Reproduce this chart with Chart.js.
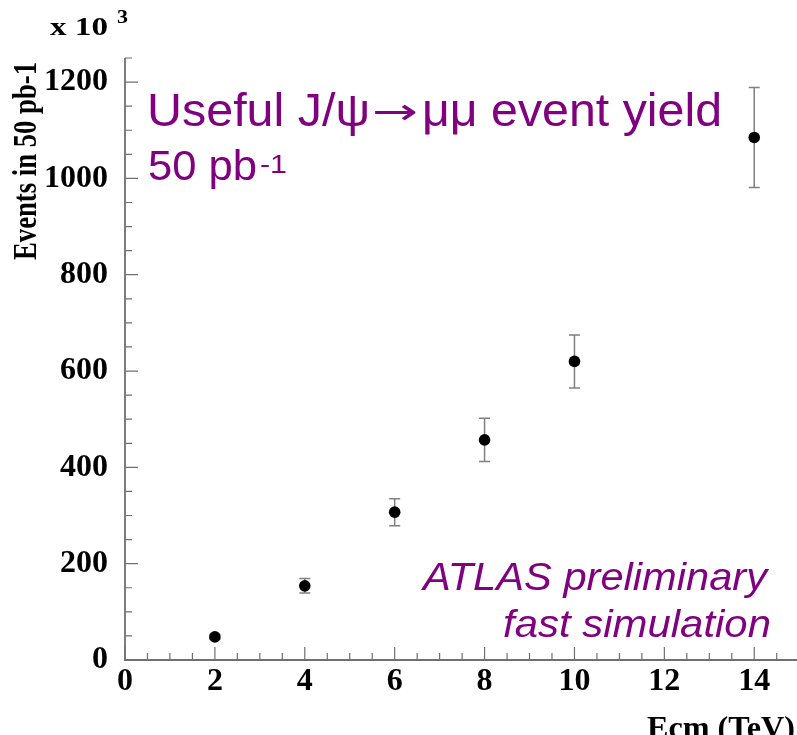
<!DOCTYPE html>
<html>
<head>
<meta charset="utf-8">
<script src="https://cdn.jsdelivr.net/npm/chart.js@4/dist/chart.umd.min.js"></script>
<style>
  html, body { margin: 0; padding: 0; background: #fff; overflow: hidden; }
  #wrap { width: 797px; height: 735px; overflow: hidden; position: relative; }
  canvas { position: absolute; left: 0; top: 0; }
</style>
</head>
<body>
<div id="wrap"><canvas id="c" width="805" height="735"></canvas></div>
<script>
// Centre-of-mass energy (TeV)
const energies = [2, 4, 6, 8, 10, 14];
// Useful J/psi -> mu mu events in 50 pb-1 (units of 10^3)
const yields = [48, 154, 307, 457, 620, 1085];
// Statistical uncertainty on each yield (units of 10^3)
const yieldErrors = [5, 15, 28, 45, 55, 104];

const xTicks = [0, 2, 4, 6, 8, 10, 12, 14];
const yTicks = [0, 200, 400, 600, 800, 1000, 1200];
const xMinorStep = 0.5;
const yMinorStep = 50;

const PURPLE = '#800080';
const AXIS_GREY = '#707070';
const BAR_GREY = '#808080';
const SERIF = '"Liberation Serif", "Times New Roman", serif';
const SANS = '"Liberation Sans", Arial, sans-serif';

// Draw a string squeezed/stretched horizontally to a set width.
function fitText(ctx, text, x, y, width, font, color) {
  ctx.save();
  ctx.font = font;
  ctx.fillStyle = color;
  ctx.textAlign = 'left';
  ctx.textBaseline = 'alphabetic';
  const w = ctx.measureText(text).width;
  ctx.translate(x, y);
  ctx.scale(width / w, 1);
  ctx.fillText(text, 0, 0);
  ctx.restore();
}

// Vertical error bars with small caps, drawn under the markers.
const errorBars = {
  id: 'errorBars',
  beforeDatasetsDraw(chart) {
    const { ctx, scales: { x, y } } = chart;
    ctx.save();
    ctx.strokeStyle = BAR_GREY;
    ctx.lineWidth = 1.5;
    energies.forEach((e, i) => {
      const px = x.getPixelForValue(e);
      const top = y.getPixelForValue(yields[i] + yieldErrors[i]);
      const bot = y.getPixelForValue(yields[i] - yieldErrors[i]);
      ctx.beginPath();
      ctx.moveTo(px, top); ctx.lineTo(px, bot);
      ctx.moveTo(px - 5.5, top); ctx.lineTo(px + 5.5, top);
      ctx.moveTo(px - 5.5, bot); ctx.lineTo(px + 5.5, bot);
      ctx.stroke();
    });
    ctx.restore();
  }
};

// Axis lines with inward major and minor tick marks.
const frameAxes = {
  id: 'frameAxes',
  beforeDatasetsDraw(chart) {
    const { ctx, chartArea: a, scales: { x, y } } = chart;
    ctx.save();
    ctx.strokeStyle = AXIS_GREY;
    ctx.lineWidth = 1.8;
    ctx.beginPath();
    ctx.moveTo(a.left, a.top); ctx.lineTo(a.left, a.bottom); ctx.lineTo(a.right, a.bottom);
    ctx.stroke();
    ctx.lineWidth = 1.2;
    ctx.beginPath();
    for (let v = x.min; v <= x.max + 1e-9; v += xMinorStep) {
      const px = x.getPixelForValue(v);
      const major = Math.abs(v / 2 - Math.round(v / 2)) < 1e-9;
      ctx.moveTo(px, a.bottom); ctx.lineTo(px, a.bottom - (major ? 13 : 7));
    }
    for (let v = y.min; v <= y.max + 1e-9; v += yMinorStep) {
      const py = y.getPixelForValue(v);
      const major = v % 200 === 0;
      ctx.moveTo(a.left, py); ctx.lineTo(a.left + (major ? 13 : 7), py);
    }
    ctx.stroke();
    ctx.restore();
  }
};

// Titles, multiplier and annotations.
const annotations = {
  id: 'annotations',
  afterDraw(chart) {
    const ctx = chart.ctx;
    // y-axis title
    ctx.save();
    ctx.translate(35.5, 260);
    ctx.rotate(-Math.PI / 2);
    fitText(ctx, 'Events in 50 pb-1', 0, 0, 198, 'bold 33px ' + SERIF, '#000');
    ctx.restore();
    // multiplier
    fitText(ctx, 'x 10', 50, 35, 58, 'bold 25px ' + SERIF, '#000');
    fitText(ctx, '3', 117, 23, 11, 'bold 18px ' + SERIF, '#000');
    // x-axis title
    fitText(ctx, 'Ecm (TeV)', 647, 738, 148, 'bold 31px ' + SERIF, '#000');
    // plot annotations
    fitText(ctx, 'Useful J/\u03C8', 147, 126, 223, '46px ' + SANS, PURPLE);
    fitText(ctx, '\u2192', 372, 124, 46, '36px "DejaVu Sans", sans-serif', PURPLE);
    fitText(ctx, '\u03BC\u03BC event yield', 422, 126, 300, '46px ' + SANS, PURPLE);
    fitText(ctx, '50 pb', 148, 180, 109, '42px ' + SANS, PURPLE);
    fitText(ctx, '-1', 260, 173, 27, '25px ' + SANS, PURPLE);
    fitText(ctx, 'ATLAS preliminary', 423, 590, 344, 'italic 38px ' + SANS, PURPLE);
    fitText(ctx, 'fast simulation', 503, 637, 268, 'italic 38px ' + SANS, PURPLE);
  }
};

const tickFont = { family: SERIF, size: 32, weight: 'bold' };

new Chart(document.getElementById('c'), {
  type: 'scatter',
  data: {
    datasets: [{
      data: energies.map((e, i) => ({ x: e, y: yields[i] })),
      backgroundColor: '#000',
      borderWidth: 0,
      pointRadius: 5.8,
      pointHoverRadius: 5.8
    }]
  },
  options: {
    responsive: false,
    animation: false,
    events: [],
    layout: { padding: { top: 58, right: 5, left: 0, bottom: 0 } },
    plugins: { legend: { display: false }, tooltip: { enabled: false } },
    scales: {
      x: {
        type: 'linear',
        position: 'bottom',
        min: 0,
        max: 15,
        grid: { display: false },
        border: { display: false },
        ticks: { color: '#000', padding: -5, font: tickFont, callback: v => String(v) },
        afterBuildTicks: s => { s.ticks = xTicks.map(v => ({ value: v })); },
        afterFit: s => { s.height = 75; }
      },
      y: {
        type: 'linear',
        min: 0,
        max: 1250,
        grid: { display: false },
        border: { display: false },
        ticks: { color: '#000', padding: 9, font: tickFont, callback: v => String(v) },
        afterBuildTicks: s => { s.ticks = yTicks.map(v => ({ value: v })); },
        afterFit: s => { s.width = 125; }
      }
    }
  },
  plugins: [errorBars, frameAxes, annotations]
});
</script>
</body>
</html>
